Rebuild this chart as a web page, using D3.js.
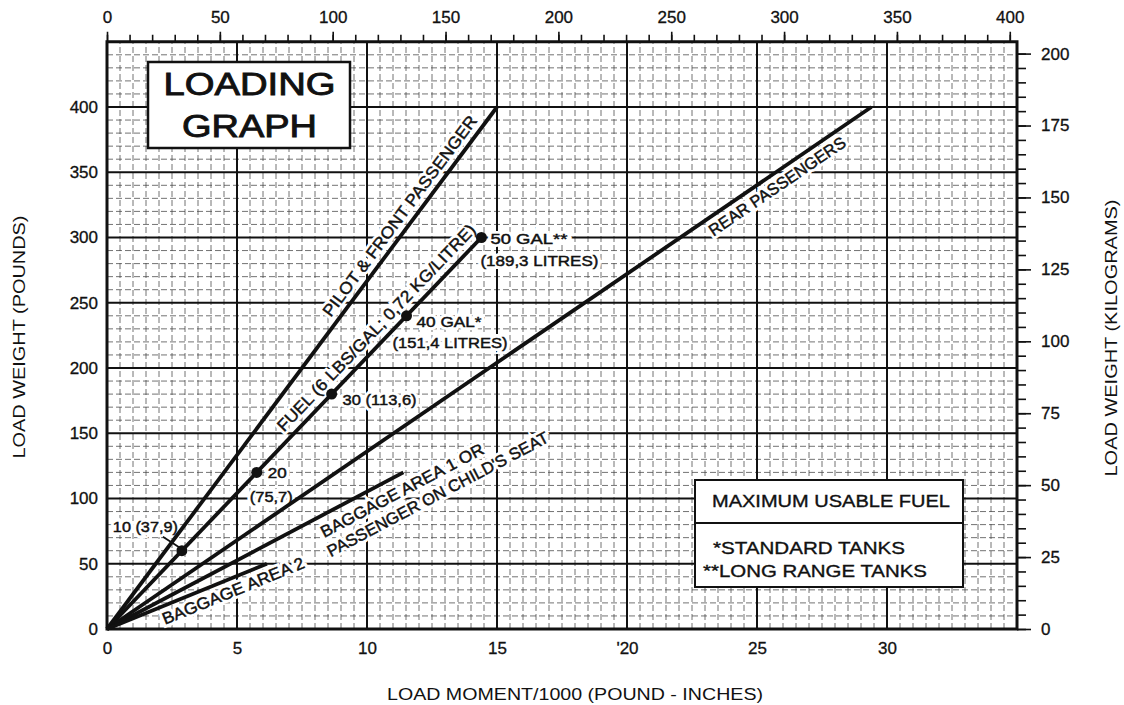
<!DOCTYPE html>
<html>
<head>
<meta charset="utf-8">
<script src="https://cdn.jsdelivr.net/npm/d3@7"></script>
<style>
    body { margin: 0; background: #fff; }
    text { font-family: "Liberation Sans", Arial, sans-serif; fill: #111; }
</style>
</head>
<body>
<div id="diagram_canvas"></div>
<script>

// ----------------------------------------------------------------------
// data

var momentTicks = [0, 5, 10, 15, 20, 25, 30];
var momentTickLabels = ["0", "5", "10", "15", "'20", "25", "30"];
var weightTicks = [0, 50, 100, 150, 200, 250, 300, 350, 400];
var kgmmTicks = [0, 50, 100, 150, 200, 250, 300, 350, 400];
var kgTicks = [0, 25, 50, 75, 100, 125, 150, 175, 200];

// each loading line runs from the origin to its end point
var lineLabels = [
    ["PILOT & FRONT PASSENGER"],
    ["FUEL (6 LBS/GAL; 0,72 KG/LITRE)"],
    ["REAR PASSENGERS"],
    ["BAGGAGE AREA 1 OR", "PASSENGER ON CHILD'S SEAT"],
    ["BAGGAGE AREA 2"]
];
var lineEndMoment = [15.0, 14.4, 29.4, 11.4, 6.15];
var lineEndWeight = [400, 300, 400, 120, 50];

// fuel marks on the fuel line
var fuelGallons = [10, 20, 30, 40, 50];
var fuelWeight = [60, 120, 180, 240, 300];
var fuelMoment = [2.88, 5.76, 8.64, 11.52, 14.4];
var fuelLabels = [
    ["10 (37,9)"],
    ["20", "(75,7)"],
    ["30 (113,6)"],
    ["40 GAL*", "(151,4 LITRES)"],
    ["50 GAL**", "(189,3 LITRES)"]
];

var boxTitle = ["LOADING", "GRAPH"];
var fuelNoteHead = "MAXIMUM USABLE FUEL";
var fuelNotes = ["*STANDARD TANKS", "**LONG RANGE TANKS"];

// ----------------------------------------------------------------------
// placement of the annotations (pixels)

var lineLabelPlace = [
    {t: [0.588], d: [7], len: [246]},
    {t: [0.488], d: [8], len: [279]},
    {t: [0.78], d: [-18], len: [162]},
    {t: [0.70, 0.69], d: [-21, -41], len: [182, 248]},
    {t: [0.32], d: [-18], len: [152]}
];

var fuelLabelPlace = [
    [{dx: -69, dy: -19, len: 65}],
    [{dx: 11, dy: 6, len: 19}, {dx: -7, dy: 30, len: 43}],
    [{dx: 11, dy: 11, len: 74}],
    [{dx: 10, dy: 11, len: 65}, {dx: -14, dy: 32, len: 115}],
    [{dx: 9, dy: 6, len: 77}, {dx: -1, dy: 28, len: 118}]
];

// ----------------------------------------------------------------------

// text with a white knock-out behind it, a little heavier than regular
function haloText(parent, attrs, str) {
    [0, 1].forEach(function(layer) {
        var t = parent.append("text");
        Object.keys(attrs).forEach(function(k) { t.attr(k, attrs[k]) });
        t.attr("lengthAdjust", "spacingAndGlyphs");
        if (layer == 0) {
            t.attr("stroke", "#fff").attr("stroke-width", 6).attr("fill", "#fff");
        } else {
            t.attr("stroke", "#111").attr("stroke-width", 0.45);
        }
        t.text(str);
    });
}

class LoadingGraph {
    constructor() {
        this.width = 1124;
        this.height = 705;

        this.x = d3.scaleLinear().domain([0, 35]).range([107, 1017]);
        this.y = d3.scaleLinear().domain([0, 450]).range([629, 41.75]);
        this.xTop = d3.scaleLinear().domain([0, 35 * 11.52]).range([107, 1017]);
        this.yKg = d3.scaleLinear().domain([0, 450 / 2.20462]).range([629, 41.75]);

        this.svg = d3.select("#diagram_canvas")
                    .append("svg:svg")
                    .attr("width", this.width)
                    .attr("height", this.height);
    }

    DrawGrid() {
        var x = this.x, y = this.y;
        var g = this.svg.append("g");

        var minorX = d3.range(0.5, 35, 0.5).filter(function(d) { return d % 5 != 0 });
        var minorY = d3.range(10, 450, 10).filter(function(d) { return d % 50 != 0 });

        g.selectAll(".minorx").data(minorX).enter()
            .append("line")
            .attr("x1", function(d) { return x(d) })
            .attr("x2", function(d) { return x(d) })
            .attr("y1", y(0)).attr("y2", y(450))
            .attr("stroke", "#444").attr("stroke-width", 0.75)
            .attr("stroke-dasharray", "6,3");

        g.selectAll(".minory").data(minorY).enter()
            .append("line")
            .attr("y1", function(d) { return y(d) })
            .attr("y2", function(d) { return y(d) })
            .attr("x1", x(0)).attr("x2", x(35))
            .attr("stroke", "#444").attr("stroke-width", 0.75)
            .attr("stroke-dasharray", "6,3");

        g.selectAll(".majorx").data(momentTicks.slice(1)).enter()
            .append("line")
            .attr("x1", function(d) { return x(d) })
            .attr("x2", function(d) { return x(d) })
            .attr("y1", y(0)).attr("y2", y(450))
            .attr("stroke", "#111").attr("stroke-width", 2);

        g.selectAll(".majory").data(weightTicks.slice(1)).enter()
            .append("line")
            .attr("y1", function(d) { return y(d) })
            .attr("y2", function(d) { return y(d) })
            .attr("x1", x(0)).attr("x2", x(35))
            .attr("stroke", "#111").attr("stroke-width", 2);
    }

    DrawAxes() {
        var bottom = this.svg.append("g")
            .attr("transform", "translate(0," + this.y(0) + ")")
            .call(d3.axisBottom(this.x).tickValues(momentTicks).tickSize(0).tickPadding(13)
                .tickFormat(function(d, i) { return momentTickLabels[i] }));

        var left = this.svg.append("g")
            .attr("transform", "translate(" + this.x(0) + ",0)")
            .call(d3.axisLeft(this.y).tickValues(weightTicks).tickSize(0).tickPadding(9));

        var topMinor = this.svg.append("g")
            .attr("transform", "translate(0," + this.y(450) + ")")
            .call(d3.axisTop(this.xTop).tickValues(d3.range(0, 410, 10)).tickSize(7).tickFormat(""));

        var top = this.svg.append("g")
            .attr("transform", "translate(0," + this.y(450) + ")")
            .call(d3.axisTop(this.xTop).tickValues(kgmmTicks).tickSize(10).tickPadding(9));

        var rightMinor = this.svg.append("g")
            .attr("transform", "translate(" + this.x(35) + ",0)")
            .call(d3.axisRight(this.yKg).tickValues(d3.range(0, 205, 5)).tickSize(9).tickFormat(""));

        var right = this.svg.append("g")
            .attr("transform", "translate(" + this.x(35) + ",0)")
            .call(d3.axisRight(this.yKg).tickValues(kgTicks).tickSize(14).tickPadding(10));

        [bottom, left, topMinor, top, rightMinor, right].forEach(function(a) {
            a.select(".domain").remove();
            a.selectAll("line").attr("stroke", "#111").attr("stroke-width", 1.6);
            a.selectAll("text")
                .attr("font-size", 17)
                .attr("font-family", "Liberation Sans, Arial, sans-serif")
                .attr("fill", "#111")
                .attr("stroke", "#111").attr("stroke-width", 0.3);
        });

        // frame
        this.svg.append("rect")
            .attr("x", this.x(0)).attr("y", this.y(450))
            .attr("width", this.x(35) - this.x(0))
            .attr("height", this.y(0) - this.y(450))
            .attr("fill", "none").attr("stroke", "#111").attr("stroke-width", 3);

        // axis titles
        this.svg.append("text")
            .attr("transform", "translate(25,337) rotate(-90)")
            .attr("text-anchor", "middle").attr("font-size", 16)
            .attr("textLength", 243).attr("lengthAdjust", "spacingAndGlyphs")
            .text("LOAD WEIGHT (POUNDS)");

        this.svg.append("text")
            .attr("transform", "translate(1117,338) rotate(-90)")
            .attr("text-anchor", "middle").attr("font-size", 16)
            .attr("textLength", 277).attr("lengthAdjust", "spacingAndGlyphs")
            .text("LOAD WEIGHT (KILOGRAMS)");

        this.svg.append("text")
            .attr("x", 575).attr("y", 700)
            .attr("text-anchor", "middle").attr("font-size", 16)
            .attr("textLength", 376).attr("lengthAdjust", "spacingAndGlyphs")
            .text("LOAD MOMENT/1000 (POUND - INCHES)");
    }

    DrawLineLabels() {
        var x = this.x, y = this.y;
        var g = this.svg.append("g");

        lineLabels.forEach(function(rows, i) {
            var x0 = x(0), y0 = y(0);
            var x1 = x(lineEndMoment[i]), y1 = y(lineEndWeight[i]);
            var len = Math.hypot(x1 - x0, y1 - y0);
            var ux = (x1 - x0) / len, uy = (y1 - y0) / len;
            var nx = uy, ny = -ux;
            var angle = Math.atan2(y1 - y0, x1 - x0) * 180 / Math.PI;
            var place = lineLabelPlace[i];

            rows.forEach(function(row, k) {
                var along = place.t[k] * len;
                var px = x0 + ux * along + nx * place.d[k];
                var py = y0 + uy * along + ny * place.d[k];
                haloText(g, {
                    "transform": "translate(" + px + "," + py + ") rotate(" + angle + ")",
                    "font-size": 16.5,
                    "textLength": place.len[k]
                }, row);
            });
        });
    }

    DrawFuelLabels() {
        var x = this.x, y = this.y;
        var g = this.svg.append("g");

        fuelLabels.forEach(function(rows, i) {
            var cx = x(fuelMoment[i]), cy = y(fuelWeight[i]);
            rows.forEach(function(row, k) {
                var p = fuelLabelPlace[i][k];
                haloText(g, {
                    "x": cx + p.dx, "y": cy + p.dy,
                    "font-size": 14.5,
                    "textLength": p.len
                }, row);
            });
        });

        // leader for the 10 gallon mark
        var c = [x(fuelMoment[0]), y(fuelWeight[0])];
        g.append("line")
            .attr("x1", c[0] - 19).attr("y1", c[1] - 14)
            .attr("x2", c[0] - 2).attr("y2", c[1] - 3)
            .attr("stroke", "#111").attr("stroke-width", 1.8);
    }

    DrawLines() {
        var x = this.x, y = this.y;

        this.svg.selectAll(".load").data(lineEndMoment).enter()
            .append("line")
            .attr("x1", x(0)).attr("y1", y(0))
            .attr("x2", function(d) { return x(d) })
            .attr("y2", function(d, i) { return y(lineEndWeight[i]) })
            .attr("stroke", "#111").attr("stroke-width", 3.8)
            .attr("stroke-linecap", "butt");

        this.svg.selectAll(".fuel").data(fuelGallons).enter()
            .append("circle")
            .attr("cx", function(d, i) { return x(fuelMoment[i]) })
            .attr("cy", function(d, i) { return y(fuelWeight[i]) })
            .attr("r", 5.5)
            .attr("fill", "#111");
    }

    DrawBoxes() {
        var svg = this.svg;

        svg.append("rect")
            .attr("x", 148).attr("y", 62).attr("width", 202).attr("height", 86)
            .attr("fill", "#fff").attr("stroke", "#111").attr("stroke-width", 2.5);

        svg.selectAll(".title").data(boxTitle).enter()
            .append("text")
            .attr("x", 249.5)
            .attr("y", function(d, i) { return 95 + i * 42 })
            .attr("text-anchor", "middle")
            .attr("font-size", 31)
            .attr("stroke", "#111").attr("stroke-width", 0.9)
            .attr("textLength", function(d, i) { return i == 0 ? 172 : 135 })
            .attr("lengthAdjust", "spacingAndGlyphs")
            .text(function(d) { return d });

        svg.append("rect")
            .attr("x", 695).attr("y", 480).attr("width", 268).attr("height", 107)
            .attr("fill", "#fff").attr("stroke", "#111").attr("stroke-width", 2);

        svg.append("line")
            .attr("x1", 695).attr("x2", 963).attr("y1", 523).attr("y2", 523)
            .attr("stroke", "#111").attr("stroke-width", 1.8);

        svg.append("text")
            .attr("x", 712).attr("y", 507)
            .attr("font-size", 16.5)
            .attr("stroke", "#111").attr("stroke-width", 0.35)
            .attr("textLength", 238).attr("lengthAdjust", "spacingAndGlyphs")
            .text(fuelNoteHead);

        svg.selectAll(".note").data(fuelNotes).enter()
            .append("text")
            .attr("x", function(d, i) { return i == 0 ? 713 : 703 })
            .attr("y", function(d, i) { return 554 + i * 23 })
            .attr("font-size", 16.5)
            .attr("stroke", "#111").attr("stroke-width", 0.35)
            .attr("textLength", function(d, i) { return i == 0 ? 192 : 224 })
            .attr("lengthAdjust", "spacingAndGlyphs")
            .text(function(d) { return d });
    }

    RedrawImage() {
        this.DrawGrid();
        this.DrawAxes();
        this.DrawLineLabels();
        this.DrawFuelLabels();
        this.DrawLines();
        this.DrawBoxes();
    }
}

// ----------------------------------------------------------------------

var loadingGraph = new LoadingGraph();
loadingGraph.RedrawImage();

// ----------------------------------------------------------------------

</script>
</body>
</html>
